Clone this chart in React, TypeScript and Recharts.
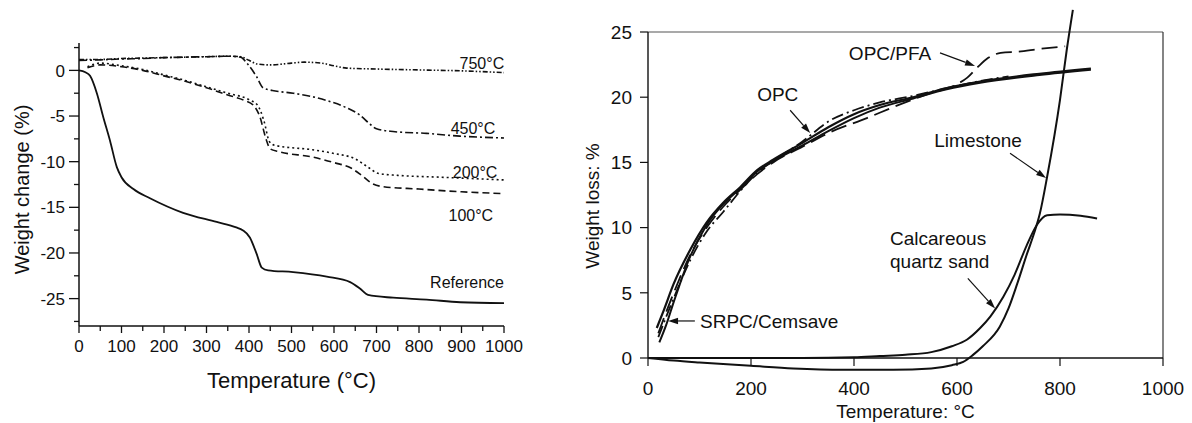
import { LineChart, Line, XAxis, YAxis, ReferenceLine, ReferenceDot } from 'recharts';

// ---- left panel: weight change vs temperature (t in °C, v in %)
const REFERENCE = [[0,0],[15,-0.2],[26,-0.6],[42,-2.5],[57,-5.1],[73,-7.7],[89,-10.6],[100,-11.7],[128,-13.0],[167,-14.0],[245,-15.6],[324,-16.6],[370,-17.2],[385,-17.5],[402,-18.3],[418,-20.1],[430,-21.6],[445,-21.9],[504,-22.1],[583,-22.6],[638,-23.2],[661,-23.9],[680,-24.6],[739,-24.9],[818,-25.1],[897,-25.4],[1000,-25.5]];
const T100 = [[20,0.3],[50,0.6],[100,0.4],[150,0],[200,-0.6],[250,-1.2],[300,-1.9],[350,-2.7],[390,-3.3],[410,-3.8],[425,-5],[440,-7.5],[450,-8.6],[470,-8.9],[550,-9.5],[600,-10.1],[640,-10.7],[665,-11.5],[690,-12.4],[710,-12.7],[800,-13.0],[900,-13.3],[1000,-13.5]];
const T200 = [[20,0.4],[50,0.8],[100,0.5],[150,0.1],[200,-0.5],[250,-1.1],[300,-1.8],[350,-2.5],[400,-3.2],[420,-3.8],[435,-5.5],[448,-7.8],[460,-8.2],[550,-8.7],[600,-9.1],[650,-9.7],[680,-10.6],[705,-11.3],[750,-11.5],[850,-11.7],[1000,-12.0]];
const T450 = [[0,1.1],[50,1.15],[100,1.25],[150,1.3],[200,1.4],[250,1.45],[300,1.5],[350,1.55],[380,1.45],[395,0.8],[418,-0.7],[433,-1.9],[455,-2.2],[504,-2.5],[583,-3.3],[630,-4.1],[661,-4.9],[685,-5.9],[700,-6.4],[739,-6.7],[818,-6.9],[896,-7.2],[1000,-7.4]];
const T750 = [[0,1.2],[50,1.2],[100,1.3],[150,1.35],[200,1.4],[250,1.45],[300,1.5],[350,1.55],[380,1.5],[400,1.1],[420,0.7],[450,0.6],[500,0.8],[530,0.9],[570,0.8],[600,0.5],[630,0.25],[700,0.15],[800,0.05],[900,-0.05],[1000,-0.25]];
const LEFT_X_TICKS = [0,50,100,150,200,250,300,350,400,450,500,550,600,650,700,750,800,850,900,950,1000];
const LEFT_Y_TICKS = [2.5,0,-2.5,-5,-7.5,-10,-12.5,-15,-17.5,-20,-22.5,-25,-27.5];
const LEFT_LABELS: [string, number, number][] = [['750°C',948,0.8],['450°C',927,-6.3],['200°C',932,-11.2],['100°C',922,-15.9],['Reference',913,-23.2]];

// ---- right panel: weight loss vs temperature
const OPC = [[17,2.3],[30,3.6],[50,5.7],[82,8.3],[114,10.4],[146,11.9],[179,13.1],[212,14.4],[243,15.2],[300,16.5],[350,17.7],[400,18.7],[450,19.4],[515,20.0],[580,20.7],[645,21.2],[760,21.8],[860,22.2]];
const SRPC = [[22,1.2],[35,2.5],[50,4.3],[82,7.8],[114,10.2],[146,11.8],[179,13.0],[212,14.3],[243,15.1],[300,16.3],[350,17.4],[400,18.4],[450,19.2],[515,19.9],[580,20.6],[645,21.1],[760,21.7],[860,22.1]];
const CEMSAVE = [[20,1.6],[50,4.6],[82,7.5],[114,9.7],[146,11.2],[179,12.8],[212,14.2],[243,15.1],[300,16.6],[353,18.2],[400,19.0],[450,19.6],[515,20.1],[580,20.7],[640,21.2],[700,21.6]];
const OPC_PFA = [[20,1.9],[50,5.0],[82,7.9],[114,10.0],[146,11.6],[179,12.9],[212,14.1],[243,15.0],[300,16.2],[353,17.3],[425,18.4],[480,19.3],[540,20.2],[600,21.0],[620,21.5],[640,22.3],[660,23.0],[685,23.4],[720,23.5],[760,23.7],[810,23.9]];
const LIMESTONE = [[0,0],[50,-0.2],[100,-0.35],[200,-0.6],[282,-0.8],[379,-0.9],[476,-0.9],[550,-0.8],[590,-0.55],[612,-0.3],[630,0.2],[650,0.9],[683,2.4],[700,3.8],[717,5.7],[736,8.0],[750,9.6],[761,11.1],[775,13.9],[800,19.8],[813,23.6],[825,26.7]];
const CALC_SAND = [[0,0],[100,0],[200,0],[300,0],[400,0.05],[450,0.15],[500,0.25],[550,0.45],[590,0.9],[619,1.4],[645,2.3],[665,3.2],[690,4.7],[712,6.4],[735,8.6],[755,10.2],[775,10.95],[800,11.0],[840,10.9],[872,10.7]];
const RIGHT_X_TICKS = [0,200,400,600,800,1000];
const RIGHT_Y_TICKS = [0,5,10,15,20,25];
// text, t, v, anchor
const RIGHT_LABELS: [string, number, number, string][] = [['OPC/PFA',470,23.4,'center'],['OPC',252,20.2,'center'],['Limestone',641,16.7,'center'],['Calcareous',470,9.2,'right'],['quartz sand',470,7.4,'right'],['SRPC/Cemsave',101,2.85,'right']];
// from (t,v) to (t,v)
const RIGHT_ARROWS = [[567,23.4,635,22.4],[276,19.0,315,17.25],[703,15.7,773,13.8],[621,6.1,674,3.8],[91,2.84,39,2.84]];

const INK = '#111';
const FONT = '"Liberation Sans", Arial, sans-serif';
const pts = (rows: number[][]) => rows.map(([t, v]) => ({ t, v }));

function LeftYTick({ x, y, payload }: any) {
  const major = payload.value % 5 === 0;
  return (
    <g>
      <line x1={x - (major ? 10 : 5)} x2={x} y1={y} y2={y} stroke={INK} strokeWidth={1.3} />
      {major && (
        <text x={x - 14} y={y} dy="0.36em" textAnchor="end" fontSize={17} fill={INK} fontFamily={FONT}>
          {payload.value}
        </text>
      )}
    </g>
  );
}

function LeftXTick({ x, y, payload }: any) {
  const major = payload.value % 100 === 0;
  return (
    <g>
      <line x1={x} x2={x} y1={y} y2={y + (major ? 7 : 5)} stroke={INK} strokeWidth={1.3} />
      {major && (
        <text x={x} y={y + 20} dy="0.36em" textAnchor="middle" fontSize={17} fill={INK} fontFamily={FONT}>
          {payload.value}
        </text>
      )}
    </g>
  );
}

function RightYTick({ x, y, payload }: any) {
  return (
    <g>
      <line x1={x - 8} x2={x} y1={y} y2={y} stroke={INK} strokeWidth={1.2} />
      <text x={x - 16} y={y} dy="0.36em" textAnchor="end" fontSize={19} fill={INK} fontFamily={FONT}>
        {payload.value}
      </text>
    </g>
  );
}

function RightXTick({ x, y, payload }: any) {
  return (
    <g>
      <line x1={x} x2={x} y1={y} y2={y + 8} stroke={INK} strokeWidth={1.2} />
      <text x={x} y={y + 30} dy="0.36em" textAnchor="middle" fontSize={19} fill={INK} fontFamily={FONT}>
        {payload.value}
      </text>
    </g>
  );
}

function Arrow(props: any) {
  const { x1, y1, x2, y2 } = props;
  const a = Math.atan2(y2 - y1, x2 - x1);
  const len = 10;
  const w = 3.2;
  const bx = x2 - len * Math.cos(a);
  const by = y2 - len * Math.sin(a);
  const p = `${x2},${y2} ${bx + w * Math.sin(a)},${by - w * Math.cos(a)} ${bx - w * Math.sin(a)},${by + w * Math.cos(a)}`;
  return (
    <g>
      <line x1={x1} y1={y1} x2={bx} y2={by} stroke={INK} strokeWidth={1.2} />
      <polygon points={p} fill={INK} />
    </g>
  );
}

const yTitle = (text: string, dx: number, dyc: number, size: number) => (props: any) => {
  const vb = props.viewBox;
  const cx = vb.x + dx;
  const cy = vb.y + vb.height / 2 + dyc;
  return (
    <text x={cx} y={cy} transform={`rotate(-90 ${cx} ${cy})`} textAnchor="middle" dy="0.36em" fontSize={size} fill={INK} fontFamily={FONT}>
      {text}
    </text>
  );
};

function LeftChart() {
  return (
    <LineChart width={560} height={423} margin={{ top: 43, right: 56, bottom: 0, left: 0 }}>
      <XAxis
        type="number"
        dataKey="t"
        domain={[0, 1000]}
        ticks={LEFT_X_TICKS}
        interval={0}
        height={97}
        tickSize={0}
        tickMargin={0}
        tickLine={false}
        tick={<LeftXTick />}
        axisLine={{ stroke: INK, strokeWidth: 1.5 }}
        label={{ value: 'Temperature (°C)', position: 'insideBottom', offset: 35, fontSize: 22, fill: INK, fontFamily: FONT }}
      />
      <YAxis
        type="number"
        dataKey="v"
        domain={[-28, 3]}
        ticks={LEFT_Y_TICKS}
        interval={0}
        width={79}
        tickSize={0}
        tickMargin={0}
        tickLine={false}
        tick={<LeftYTick />}
        axisLine={{ stroke: INK, strokeWidth: 1.5 }}
        label={{ content: yTitle('Weight change (%)', 22, 5, 20) }}
      />
      <Line data={pts(T750)} dataKey="v" type="monotone" stroke={INK} strokeWidth={1.6} strokeDasharray="5 2 1.5 2 1.5 2" dot={false} isAnimationActive={false} />
      <Line data={pts(T450)} dataKey="v" type="monotone" stroke={INK} strokeWidth={1.6} strokeDasharray="8 3 2 3" dot={false} isAnimationActive={false} />
      <Line data={pts(T200)} dataKey="v" type="monotone" stroke={INK} strokeWidth={1.6} strokeDasharray="2 3" dot={false} isAnimationActive={false} />
      <Line data={pts(T100)} dataKey="v" type="monotone" stroke={INK} strokeWidth={1.6} strokeDasharray="7 4" dot={false} isAnimationActive={false} />
      <Line data={pts(REFERENCE)} dataKey="v" type="monotone" stroke={INK} strokeWidth={1.8} dot={false} isAnimationActive={false} />
      {LEFT_LABELS.map(([text, t, v]) => (
        <ReferenceDot key={text} x={t} y={v} r={0} fill="none" stroke="none"
          label={{ value: text, position: 'center', fontSize: 16, fill: INK, fontFamily: FONT }} />
      ))}
    </LineChart>
  );
}

function RightChart() {
  return (
    <LineChart width={632} height={423} margin={{ top: 32, right: 29, bottom: 0, left: 0 }}>
      <XAxis
        type="number"
        dataKey="t"
        domain={[0, 1000]}
        allowDataOverflow
        ticks={RIGHT_X_TICKS}
        interval={0}
        height={65}
        tickSize={0}
        tickMargin={0}
        tickLine={false}
        tick={<RightXTick />}
        axisLine={{ stroke: INK, strokeWidth: 1.4 }}
        label={{ value: 'Temperature: °C', position: 'insideBottom', offset: 5, fontSize: 19, fill: INK, fontFamily: FONT }}
      />
      <YAxis
        type="number"
        dataKey="v"
        domain={[0, 25]}
        allowDataOverflow
        ticks={RIGHT_Y_TICKS}
        interval={0}
        width={88}
        tickSize={0}
        tickMargin={0}
        tickLine={false}
        tick={<RightYTick />}
        axisLine={{ stroke: INK, strokeWidth: 1.4 }}
        label={{ content: yTitle('Weight loss: %', 32, 11, 19) }}
      />
      <ReferenceLine y={25} stroke="#555" strokeWidth={1.2} />
      <ReferenceLine x={1000} stroke="#333" strokeWidth={1.2} />
      <Line data={pts(OPC_PFA)} dataKey="v" type="monotone" stroke={INK} strokeWidth={1.8} strokeDasharray="16 7" dot={false} isAnimationActive={false} />
      <Line data={pts(CEMSAVE)} dataKey="v" type="monotone" stroke={INK} strokeWidth={1.8} strokeDasharray="12 4 2 4" dot={false} isAnimationActive={false} />
      <Line data={pts(SRPC)} dataKey="v" type="monotone" stroke={INK} strokeWidth={2} dot={false} isAnimationActive={false} />
      <Line data={pts(OPC)} dataKey="v" type="monotone" stroke={INK} strokeWidth={2.2} dot={false} isAnimationActive={false} />
      <Line data={pts(LIMESTONE)} dataKey="v" type="monotone" stroke={INK} strokeWidth={2} dot={false} isAnimationActive={false} />
      <Line data={pts(CALC_SAND)} dataKey="v" type="monotone" stroke={INK} strokeWidth={2} dot={false} isAnimationActive={false} />
      {RIGHT_ARROWS.map(([t1, v1, t2, v2], i) => (
        <ReferenceLine key={`arrow-${i}`} segment={[{ x: t1, y: v1 }, { x: t2, y: v2 }]} shape={<Arrow />} />
      ))}
      {RIGHT_LABELS.map(([text, t, v, pos]) => (
        <ReferenceDot key={text} x={t} y={v} r={0} fill="none" stroke="none"
          label={{ value: text, position: pos, offset: 0, fontSize: 19, fill: INK, fontFamily: FONT }} />
      ))}
    </LineChart>
  );
}

export default function App() {
  return (
    <div style={{ position: 'absolute', left: 0, top: 0, width: 1192, height: 423, background: '#fff', fontFamily: FONT }}>
      <style>{'.recharts-line, .recharts-line * { clip-path: none !important; }'}</style>
      <div style={{ position: 'absolute', left: 0, top: 0 }}>
        <LeftChart />
      </div>
      <div style={{ position: 'absolute', left: 560, top: 0 }}>
        <RightChart />
      </div>
    </div>
  );
}
